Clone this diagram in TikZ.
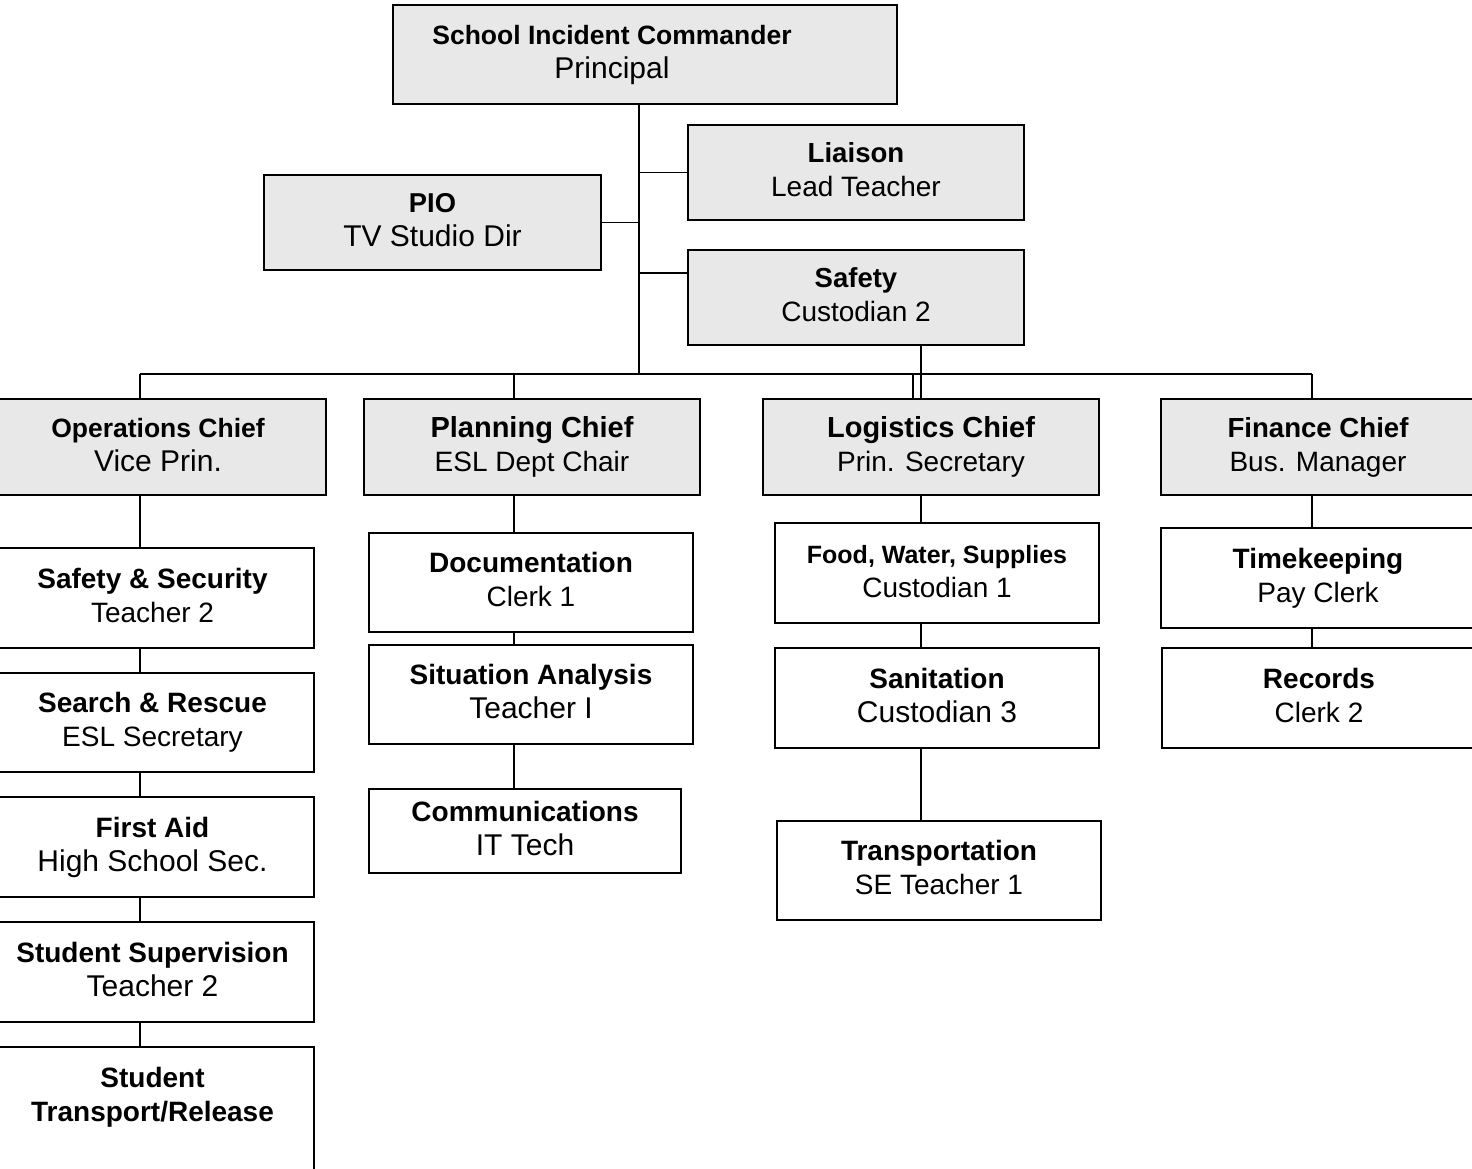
\documentclass[tikz,border=0pt]{standalone}
\usepackage{fontspec}
\setmainfont{Liberation Sans}
\usetikzlibrary{calc}
\definecolor{boxgray}{RGB}{232,232,232}
\newcommand\twoline[4]{{\bfseries\fontsize{#1}{34}\selectfont\rule{0pt}{21pt}#2}\\{\fontsize{#3}{34}\selectfont #4\rule[-7pt]{0pt}{7pt}}}
\begin{document}
\begin{tikzpicture}[x=1pt,y=-1pt,
  orgbox/.style={draw=black, line width=1.8pt, align=center, inner sep=0pt,
                 font=\fontsize{28}{34}\selectfont, text=black},
  grbox/.style={orgbox, fill=boxgray},
  wbox/.style={orgbox, fill=white},
  lbl/.style={inner sep=0pt, align=center, text=black, font=\fontsize{28}{34}\selectfont},
  conn/.style={line width=1.8pt, draw=black}]
\useasboundingbox[fill=white] (0,0) rectangle (1472,1168);

% top level
\node[grbox, minimum width=504pt, minimum height=99pt] (cmd) at (645,54.5) {};
\node[lbl] (cmdtext) at (612,54.5) {\twoline{26.5}{School Incident Commander}{30}{Principal}};
\node[grbox, minimum width=336pt, minimum height=95pt] (liaison) at (856,172.5) {\twoline{27.6}{Liaison}{28}{Lead Teacher}};
\node[grbox, minimum width=337pt, minimum height=95pt] (pio) at (432.5,222.5) {\twoline{27.3}{PIO}{30}{TV Studio Dir}};
\node[grbox, minimum width=336pt, minimum height=95pt] (safety) at (856,297.5) {\twoline{27.5}{Safety}{28}{Custodian 2}};

% chiefs
\node[grbox, minimum width=336pt, minimum height=96pt] (ops) at (158,447) {\twoline{26.5}{Operations Chief}{30}{Vice Prin.}};
\node[grbox, minimum width=336pt, minimum height=96pt] (planning) at (532,447) {\twoline{29}{Planning Chief}{28}{ESL Dept Chair}};
\node[grbox, minimum width=336pt, minimum height=96pt] (logistics) at (931,447) {\twoline{29}{Logistics Chief}{28}{Prin. Secretary}};
\node[grbox, minimum width=314pt, minimum height=96pt] (finance) at (1318,447) {\twoline{27.6}{Finance Chief}{28}{Bus. Manager}};

% operations units
\node[wbox, minimum width=323pt, minimum height=100pt] (ss) at (152.5,598) {\twoline{28}{Safety \& Security}{28}{Teacher 2}};
\node[wbox, minimum width=323pt, minimum height=99pt] (sr) at (152.5,722.5) {\twoline{28}{Search \& Rescue}{28}{ESL Secretary}};
\node[wbox, minimum width=323pt, minimum height=100pt] (fa) at (152.5,847) {\twoline{28}{First Aid}{30}{High School Sec.}};
\node[wbox, minimum width=323pt, minimum height=100pt] (sup) at (152.5,972) {\twoline{28}{Student Supervision}{30}{Teacher 2}};
\node[wbox, minimum width=323pt, minimum height=128pt] (str) at (152.5,1111) {{\bfseries Student}\\{\bfseries Transport/Release}\\\mbox{}};

% planning units
\node[wbox, minimum width=324pt, minimum height=99pt] (doc) at (531,582.5) {\twoline{28}{Documentation}{28}{Clerk 1}};
\node[wbox, minimum width=324pt, minimum height=99pt] (sit) at (531,694.5) {\twoline{28}{Situation Analysis}{30}{Teacher I}};
\node[wbox, minimum width=312pt, minimum height=84pt] (comm) at (525,831) {\twoline{28}{Communications}{30}{IT Tech}};

% logistics units
\node[wbox, minimum width=324pt, minimum height=100pt] (food) at (937,573) {\twoline{25}{Food, Water, Supplies}{28}{Custodian 1}};
\node[wbox, minimum width=324pt, minimum height=100pt] (san) at (937,698) {\twoline{28}{Sanitation}{30}{Custodian 3}};
\node[wbox, minimum width=324pt, minimum height=99pt] (trans) at (939,870.5) {\twoline{28}{Transportation}{28}{SE Teacher 1}};

% finance units
\node[wbox, minimum width=314pt, minimum height=100pt] (time) at (1318,578) {\twoline{28}{Timekeeping}{28}{Pay Clerk}};
\node[wbox, minimum width=314pt, minimum height=100pt] (rec) at (1319,698) {\twoline{28}{Records}{28}{Clerk 2}};

% connectors
\coordinate (tx) at (639,0);
\coordinate (busL) at (140,374);
\coordinate (busR) at (1312,374);
\coordinate (c2) at (514,374);
\coordinate (c3) at (913,374);
\coordinate (c3b) at (921,0);
\coordinate (sfj) at ($(safety.north west)!0.25!(safety.south west)$);

\draw[conn] (cmd.south -| tx) -- (tx |- busL);
\draw[conn] (liaison.west) -- (liaison.west -| tx);
\draw[conn] (sfj) -- (sfj -| tx);
\draw[conn] (pio.east) -- (pio.east -| tx);
\draw[conn] (busL) -- (busR);
\draw[conn] (busL) -- (ops.north -| busL);
\draw[conn] (c2) -- (planning.north -| c2);
\draw[conn] (c3) -- (logistics.north -| c3);
\draw[conn] (busR) -- (finance.north -| busR);
\draw[conn] (safety.south -| c3b) -- (logistics.north -| c3b);

\draw[conn] (ops.south -| busL) -- (ss.north -| busL);
\draw[conn] (ss.south -| busL) -- (sr.north -| busL);
\draw[conn] (sr.south -| busL) -- (fa.north -| busL);
\draw[conn] (fa.south -| busL) -- (sup.north -| busL);
\draw[conn] (sup.south -| busL) -- (str.north -| busL);

\draw[conn] (planning.south -| c2) -- (doc.north -| c2);
\draw[conn] (doc.south -| c2) -- (sit.north -| c2);
\draw[conn] (sit.south -| c2) -- (comm.north -| c2);

\draw[conn] (logistics.south -| c3b) -- (food.north -| c3b);
\draw[conn] (food.south -| c3b) -- (san.north -| c3b);
\draw[conn] (san.south -| c3b) -- (trans.north -| c3b);

\draw[conn] (finance.south -| busR) -- (time.north -| busR);
\draw[conn] (time.south -| busR) -- (rec.north -| busR);
\end{tikzpicture}
\end{document}
